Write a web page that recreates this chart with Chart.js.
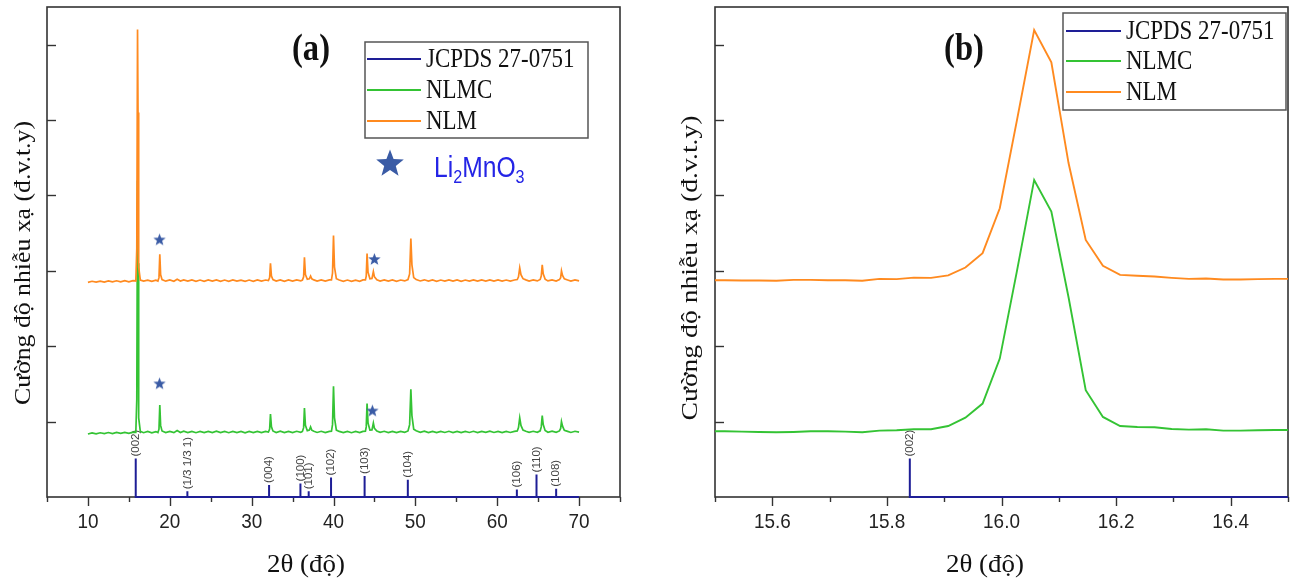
<!DOCTYPE html>
<html><head><meta charset="utf-8">
<script src="https://cdn.jsdelivr.net/npm/chart.js@4.4.1/dist/chart.umd.min.js"></script>
<style>
html,body{margin:0;padding:0;background:#fff;width:1296px;height:580px;overflow:hidden}
canvas{position:absolute;top:0}
#ca{left:0}
#cb{left:648px}
</style></head><body>
<canvas id="ca" width="648" height="580"></canvas>
<canvas id="cb" width="648" height="580"></canvas>
<script>
// ---------- DATA ----------
const theta = [
 10.0,10.5,11.0,11.5,12.0,12.5,13.0,13.5,14.0,14.5,
 15.0,15.5,15.85,15.97,16.06,16.12,16.2,16.4,16.8,17.3,
 17.8,18.3,18.55,18.68,18.78,18.88,19.05,19.5,20.0,20.5,
 20.9,21.3,21.7,22.2,22.7,23.2,23.7,24.2,24.7,25.2,
 25.7,26.2,26.7,27.2,27.7,28.2,28.7,29.2,29.7,30.2,
 30.7,31.2,31.7,32.05,32.2,32.3,32.42,32.6,33.0,33.5,
 34.0,34.5,35.0,35.5,36.0,36.2,36.35,36.45,36.57,36.8,
 37.05,37.2,37.35,37.6,38.0,38.5,39.0,39.5,39.75,39.88,
 40.0,40.12,40.35,40.7,41.2,41.7,42.2,42.7,43.2,43.6,
 43.9,44.0,44.1,44.22,44.45,44.7,44.87,45.0,45.3,45.7,
 46.2,46.7,47.2,47.7,48.2,48.7,49.1,49.3,49.45,49.58,
 49.8,50.1,50.6,51.1,51.6,52.1,52.6,53.1,53.6,54.1,
 54.6,55.1,55.6,56.1,56.6,57.1,57.6,58.1,58.6,59.1,
 59.6,60.1,60.6,61.1,61.6,62.1,62.45,62.6,62.75,62.9,
 63.15,63.5,63.9,64.4,64.9,65.25,65.38,65.5,65.62,65.85,
 66.2,66.7,67.2,67.6,67.75,67.85,67.98,68.2,68.6,69.0,
 69.5,70.0];
const nlmc = [
 .836,.850,.838,.852,.841,.855,.842,.857,.844,.858,
 .845,.860,.858,1.30,4.20,3.10,1.05,.870,.853,.869,
 .852,.868,.856,.90,1.22,.95,.876,.855,.871,.854,
 .882,.856,.872,.855,.871,.853,.870,.854,.871,.855,
 .872,.854,.870,.853,.871,.855,.869,.852,.870,.854,
 .871,.855,.870,.862,.90,1.10,.93,.876,.856,.872,
 .854,.871,.855,.872,.858,.870,.92,1.18,.95,.880,
 .887,.93,.886,.872,.856,.872,.855,.871,.872,.96,
 1.47,1.05,.888,.870,.854,.870,.853,.869,.854,.871,
 .872,.93,1.24,.98,.888,.89,.98,.91,.874,.857,
 .872,.855,.871,.854,.870,.858,.876,.96,1.43,1.08,
 .90,.878,.858,.873,.855,.871,.854,.870,.856,.872,
 .855,.871,.854,.870,.856,.872,.855,.871,.857,.873,
 .856,.871,.855,.870,.856,.871,.876,.92,1.05,.95,
 .888,.872,.857,.872,.858,.878,.93,1.08,.96,.882,
 .859,.873,.857,.876,.91,1.00,.94,.885,.870,.856,
 .872,.860];
const nlm = [
 2.848,2.862,2.850,2.864,2.852,2.866,2.853,2.868,2.854,2.869,
 2.855,2.870,2.866,3.30,6.20,5.10,3.05,2.878,2.863,2.877,
 2.860,2.876,2.864,2.91,3.22,2.95,2.884,2.863,2.879,2.862,
 2.888,2.864,2.880,2.863,2.879,2.862,2.878,2.861,2.879,2.863,
 2.880,2.861,2.878,2.862,2.879,2.863,2.877,2.861,2.878,2.862,
 2.879,2.863,2.878,2.870,2.91,3.10,2.93,2.884,2.864,2.880,
 2.862,2.879,2.863,2.880,2.866,2.878,2.92,3.18,2.95,2.888,
 2.895,2.93,2.894,2.880,2.864,2.880,2.863,2.879,2.880,2.97,
 3.47,3.05,2.896,2.878,2.862,2.878,2.861,2.877,2.862,2.879,
 2.880,2.93,3.23,2.98,2.896,2.90,2.99,2.92,2.882,2.865,
 2.880,2.863,2.879,2.862,2.878,2.866,2.884,2.96,3.43,3.08,
 2.91,2.886,2.866,2.881,2.863,2.879,2.862,2.878,2.864,2.880,
 2.863,2.879,2.862,2.878,2.864,2.880,2.863,2.879,2.865,2.881,
 2.864,2.879,2.863,2.878,2.864,2.879,2.884,2.92,3.04,2.95,
 2.896,2.880,2.865,2.880,2.866,2.886,2.93,3.08,2.96,2.890,
 2.867,2.881,2.865,2.884,2.91,3.00,2.94,2.893,2.878,2.864,
 2.880,2.868];

const thetaZoom = [15.487,15.517,15.547,15.577,15.607,15.637,15.667,15.697,15.727,15.757,
 15.787,15.817,15.847,15.877,15.907,15.937,15.967,15.997,16.027,16.057,
 16.087,16.117,16.147,16.177,16.207,16.237,16.267,16.297,16.327,16.357,
 16.387,16.417,16.447,16.477,16.507];
const nlmZoom = [2.875,2.876,2.872,2.872,2.868,2.880,2.880,2.876,2.876,2.868,
 2.894,2.890,2.910,2.907,2.940,3.044,3.234,3.830,5.000,6.195,
 5.766,4.430,3.410,3.066,2.947,2.934,2.925,2.907,2.894,2.898,
 2.885,2.885,2.890,2.894,2.894];
const nlmcZoom = [0.872,0.872,0.867,0.863,0.858,0.863,0.872,0.872,0.867,0.858,
 0.881,0.885,0.898,0.898,0.942,1.053,1.239,1.836,3.000,4.206,
 3.787,2.650,1.416,1.062,0.942,0.929,0.925,0.903,0.894,0.898,
 0.881,0.881,0.885,0.889,0.889];

const jcpdsPos = [15.84,22.15,32.13,35.96,36.97,39.70,43.80,49.08,62.40,64.80,67.20];
const jcpdsInt = [0.51,0.075,0.16,0.18,0.075,0.26,0.28,0.23,0.10,0.30,0.11];
const jcpdsHkl = ['(002)','(1/3 1/3 1)','(004)','(100)','(101)','(102)','(103)','(104)','(106)','(110)','(108)'];

const starX = [18.75, 45.0, 18.75, 44.75];
const starY = [3.41, 3.15, 1.50, 1.14];

const seriesNames = ['JCPDS 27-0751','NLMC','NLM'];
const xTicksA = [5,10,15,20,25,30,35,40,45,50,55,60,65,70,75];
const xTickLabelsA = ['10','20','30','40','50','60','70'];
const xTicksB = [15.5,15.6,15.7,15.8,15.9,16.0,16.1,16.2,16.3,16.4,16.5];
const xTickLabelsB = ['15.6','15.8','16.0','16.2','16.4'];
const yTickValues = [1,2,3,4,5,6];

// ---------- STYLE ----------
const C_NAVY = '#1e1e96', C_GREEN = '#34c334', C_ORANGE = '#ff8a1f', C_STAR = '#3a5ba5';
const SERIF = '"Liberation Serif","Times New Roman",serif';
const SANS = '"Liberation Sans",Arial,sans-serif';

function txt(ctx, s, x, y, o) {
  ctx.save();
  ctx.font = o.font; ctx.fillStyle = o.color || '#111';
  ctx.textAlign = o.align || 'center'; ctx.textBaseline = o.base || 'middle';
  ctx.translate(x, y); if (o.rot) ctx.rotate(o.rot);
  let sx = o.sx || 1;
  if (o.w) sx = o.w / ctx.measureText(s).width;
  ctx.scale(sx, 1);
  ctx.fillText(s, 0, 0); ctx.restore();
}
function starPath(g, cx, cy, R, r) {
  g.beginPath();
  for (let i = 0; i < 10; i++) {
    const a = -Math.PI / 2 + i * Math.PI / 5, rad = i % 2 ? r : R;
    g.lineTo(cx + rad * Math.cos(a), cy + rad * Math.sin(a));
  }
  g.closePath();
}
function starCanvas(R) {
  const c = document.createElement('canvas'), s = Math.ceil(R * 2 + 2);
  c.width = s; c.height = s; const g = c.getContext('2d');
  starPath(g, s / 2, s / 2, R, R * 0.42); g.fillStyle = C_STAR; g.fill();
  return c;
}
const starImg = starCanvas(6.5);

function jcpdsPoints() {
  const pts = [];
  jcpdsPos.forEach((p, i) => { pts.push({x: p, y: 0}, {x: p, y: jcpdsInt[i]}, {x: p, y: 0}); });
  pts.push({x: 70, y: 0});
  return pts;
}
const toPts = (xs, ys) => xs.map((v, i) => ({x: v, y: ys[i]}));

function panelPlugin(P) {
  return {
    id: 'panel' + P.name,
    beforeDatasetsDraw(chart) {
      const {ctx, chartArea: a, scales: {x, y}} = chart;
      ctx.save();
      ctx.strokeStyle = '#333'; ctx.lineWidth = 1.6;
      ctx.strokeRect(a.left, a.top, a.right - a.left, a.bottom - a.top);
      ctx.lineWidth = 1.4;
      P.xTicks.forEach(v => {
        const px = Math.round(x.getPixelForValue(v)) + 0.5;
        const major = P.xLabels.some(l => Math.abs(parseFloat(l) - v) < 1e-6);
        ctx.beginPath(); ctx.moveTo(px, a.bottom); ctx.lineTo(px, a.bottom + (major ? 9 : 5)); ctx.stroke();
      });
      yTickValues.forEach(v => {
        const py = Math.round(y.getPixelForValue(v)) + 0.5;
        ctx.beginPath(); ctx.moveTo(a.left, py); ctx.lineTo(a.left + 9, py); ctx.stroke();
      });
      ctx.restore();
      jcpdsPos.forEach((p, i) => {
        if (p < x.min || p > x.max) return;
        const px = x.getPixelForValue(p), py = y.getPixelForValue(jcpdsInt[i]);
        txt(ctx, jcpdsHkl[i], px, py - 2, {font: '11.5px ' + SANS, color: '#444', align: 'left', rot: -Math.PI / 2});
      });
    },
    afterDatasetsDraw(chart) {
      const {ctx, chartArea: a, scales: {x, y}} = chart;
      const o = P.offset;
      P.xLabels.forEach(l => {
        txt(ctx, l, x.getPixelForValue(parseFloat(l)), 522, {font: '21px ' + SANS, color: '#222', sx: 0.9});
      });
      txt(ctx, '2θ (độ)', P.xTitleX - o, 565, {font: '26px ' + SERIF, color: '#111', w: 78});
      txt(ctx, 'Cường độ nhiễu xạ (đ.v.t.y)', P.yTitleX - o, P.yTitleY, {font: '23px ' + SERIF, color: '#111', rot: -Math.PI / 2, w: P.yTitleLen});
      txt(ctx, P.label, P.labelX - o, 50, {font: 'bold 37px ' + SERIF, color: '#111', sx: 0.88});
      const L = P.legend;
      ctx.save();
      ctx.fillStyle = '#fff'; ctx.fillRect(L.l - o, L.t, L.r - L.l, L.b - L.t);
      ctx.strokeStyle = '#555'; ctx.lineWidth = 1.5;
      ctx.strokeRect(L.l - o, L.t, L.r - L.l, L.b - L.t);
      const cols = [C_NAVY, C_GREEN, C_ORANGE];
      seriesNames.forEach((n, i) => {
        const ry = L.rows[i];
        ctx.strokeStyle = cols[i]; ctx.lineWidth = 2;
        ctx.beginPath(); ctx.moveTo(L.s1 - o, ry); ctx.lineTo(L.s2 - o, ry); ctx.stroke();
        txt(ctx, n, L.tx - o, ry + 1, {font: '27px ' + SERIF, color: '#111', align: 'left', sx: 0.85});
      });
      ctx.restore();
      if (P.annot) {
        ctx.save();
        starPath(ctx, 390 - o, 164, 14.5, 6.1); ctx.fillStyle = C_STAR; ctx.fill();
        ctx.restore();
        const col = '#2424e6';
        let cx = 434 - o; const base = 177;
        const parts = [['Li', 29, 0], ['2', 19, 6], ['MnO', 29, 0], ['3', 19, 6]];
        parts.forEach(([s, fs, dy]) => {
          ctx.save(); ctx.font = fs + 'px ' + SANS;
          const w = ctx.measureText(s).width * 0.85;
          ctx.restore();
          txt(ctx, s, cx, base + dy, {font: fs + 'px ' + SANS, color: col, align: 'left', base: 'alphabetic', sx: 0.85});
          cx += w;
        });
      }
    }
  };
}

function makeChart(id, P) {
  const datasets = [];
  if (P.stars) datasets.push({label: 'stars', data: toPts(starX, starY), showLine: false, pointStyle: starImg, pointRadius: 6, order: 0});
  datasets.push({label: seriesNames[2], data: toPts(P.xs, P.nlm), borderColor: C_ORANGE, borderWidth: P.lw, pointRadius: 0, tension: 0, order: 1});
  datasets.push({label: seriesNames[1], data: toPts(P.xs, P.nlmc), borderColor: C_GREEN, borderWidth: P.lw, pointRadius: 0, tension: 0, order: 2});
  datasets.push({label: seriesNames[0], data: jcpdsPoints(), borderColor: C_NAVY, borderWidth: 2, pointRadius: 0, tension: 0, order: 3,
                 clip: {left: 0, top: 0, right: 0, bottom: 3}});
  return new Chart(document.getElementById(id), {
    type: 'line',
    data: {datasets},
    options: {
      responsive: false, animation: false, devicePixelRatio: 1, events: [],
      layout: {padding: {left: 0, right: P.padRight, top: 7, bottom: 0}},
      plugins: {legend: {display: false}, tooltip: {enabled: false}},
      scales: {
        x: {type: 'linear', min: P.xmin, max: P.xmax, ticks: {display: false}, grid: {display: false}, border: {display: false},
            afterFit: s => { s.height = 83; }},
        y: {type: 'linear', min: 0, max: 6.5, ticks: {display: false}, grid: {display: false}, border: {display: false},
            afterFit: s => { s.width = P.yWidth; }}
      }
    },
    plugins: [panelPlugin(P)]
  });
}

makeChart('ca', {
  name: 'A', offset: 0, xs: theta, nlm: nlm, nlmc: nlmc, stars: true, annot: true, lw: 1.7,
  xmin: 5, xmax: 75, padRight: 28, yWidth: 47, xTicks: xTicksA, xLabels: xTickLabelsA,
  xTitleX: 306, yTitleX: 24, yTitleY: 263, yTitleLen: 284, label: '(a)', labelX: 311,
  legend: {l: 365, t: 42, r: 588, b: 138, rows: [59, 90, 121], s1: 367, s2: 421, tx: 426}
});
makeChart('cb', {
  name: 'B', offset: 648, xs: thetaZoom, nlm: nlmZoom, nlmc: nlmcZoom, stars: false, annot: false, lw: 1.9,
  xmin: 15.5, xmax: 16.5, padRight: 8, yWidth: 67, xTicks: xTicksB, xLabels: xTickLabelsB,
  xTitleX: 985, yTitleX: 691, yTitleY: 268, yTitleLen: 305, label: '(b)', labelX: 964,
  legend: {l: 1063, t: 13, r: 1286, b: 110, rows: [31, 61, 92], s1: 1066, s2: 1121, tx: 1126}
});
</script>
</body></html>
